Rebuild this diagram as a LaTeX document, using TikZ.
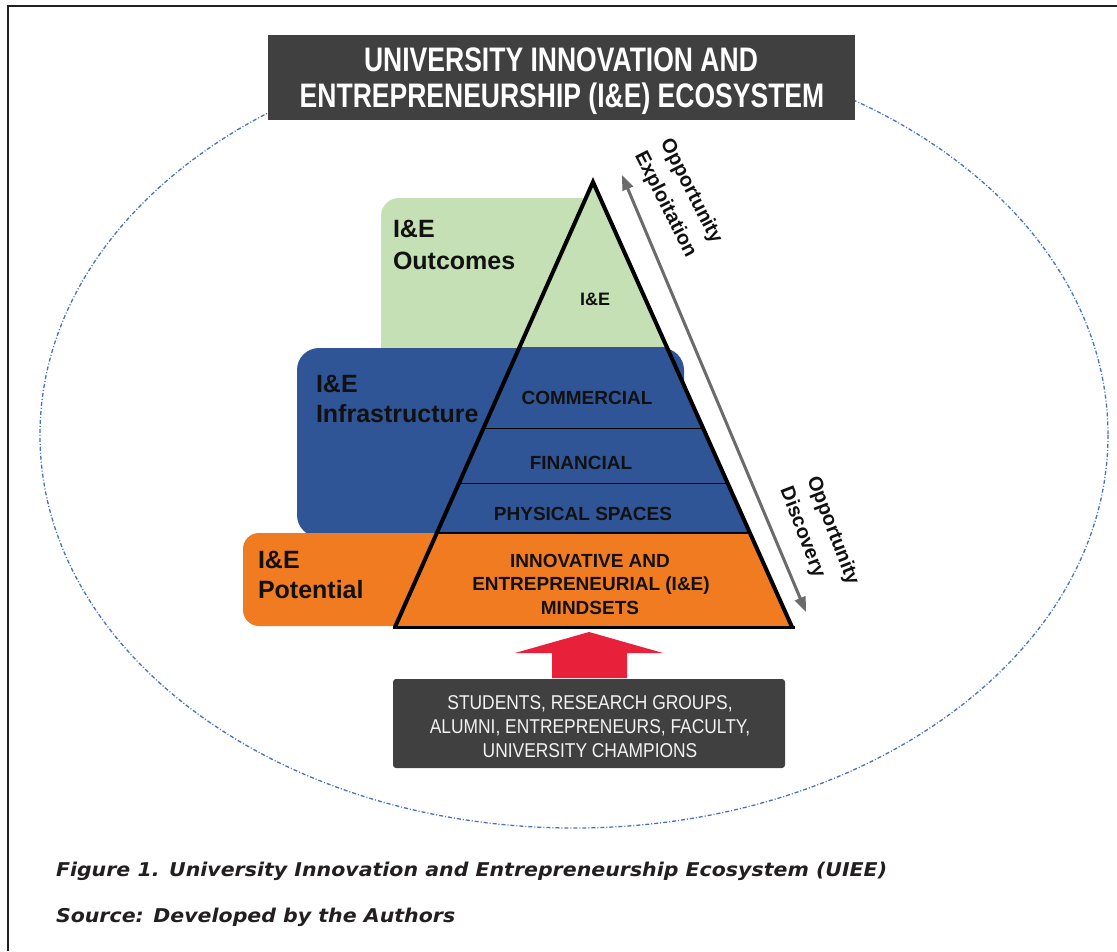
\documentclass[tikz,border=0pt]{standalone}
\usepackage{fontspec}
\setmainfont{Liberation Sans}
\newfontfamily\titlefont[FakeStretch=0.78]{Liberation Sans}
\newfontfamily\boxfont[FakeStretch=0.87]{Liberation Sans}
\newfontfamily\capfont[FakeStretch=1.08]{DejaVu Sans}
\usetikzlibrary{arrows.meta,calc}
\definecolor{tgray}{HTML}{404040}
\definecolor{framec}{HTML}{231F20}
\definecolor{ellc}{HTML}{4472C4}
\definecolor{greenc}{HTML}{C5E0B4}
\definecolor{bluec}{HTML}{2F5597}
\definecolor{orangec}{HTML}{F07B21}
\definecolor{redc}{HTML}{E8203A}
\definecolor{arrowgray}{HTML}{6B6B6B}
\definecolor{inkc}{HTML}{111111}
\begin{document}
\begin{tikzpicture}[x=1pt,y=-1pt,
  txt/.style={inner sep=0pt, outer sep=0pt},
  titletxt/.style={txt, text=white, font=\titlefont\bfseries\fontsize{34}{34}\selectfont},
  labeltxt/.style={txt, text=inkc, anchor=base west, font=\bfseries\fontsize{25}{25}\selectfont},
  pyrtxt/.style={txt, text=inkc, anchor=base, font=\bfseries\fontsize{19}{19}\selectfont},
  peopletxt/.style={txt, text=white!95!black, anchor=base, font=\boxfont\fontsize{20}{20}\selectfont},
  captxt/.style={txt, text=framec, anchor=base west, font=\capfont\bfseries\itshape\fontsize{19}{19}\selectfont},
  opptxt/.style={txt, text=inkc, align=left, font=\bfseries\fontsize{20}{29}\selectfont},
  grayarrow/.style={draw=arrowgray, line width=3pt,
    {Triangle[length=15pt,width=11pt]}-{Triangle[length=15pt,width=11pt]}},
  darkbox/.style={fill=tgray, inner sep=0pt}
]
\useasboundingbox (0,0) rectangle (1117,951);
\fill[white] (0,0) rectangle (1117,951);

% frame
\draw[framec, line width=1.5pt] (8,951) -- (8,6) -- (1117,6);

% ecosystem ellipse
\draw[ellc, line width=1.3pt, dash pattern=on 4pt off 2pt on 1pt off 2pt]
  (574,435) ellipse [x radius=534, y radius=393];

% title
\node[darkbox, minimum width=587pt, minimum height=85pt] (title) at (561.5,77.5) {};
\node[titletxt, anchor=base] (title1) at (561,71) {UNIVERSITY INNOVATION AND};
\node[titletxt, anchor=base] (title2) at (562,107) {ENTREPRENEURSHIP (I\&E) ECOSYSTEM};

% side boxes
\fill[greenc, rounded corners=18pt] (381,198) rectangle (598,372);
\fill[bluec, rounded corners=22pt] (297,348) rectangle (684,537);
\fill[orangec, rounded corners=16pt] (243,533) rectangle (730,626);

% pyramid
\coordinate (apex) at (593,182);
\coordinate (bl) at (395,627);
\coordinate (br) at (792,627);
\coordinate (gl) at ($(apex)!0.3708!(bl)$);
\coordinate (gr) at ($(apex)!0.3708!(br)$);
\coordinate (fl) at ($(apex)!0.5528!(bl)$);
\coordinate (fr) at ($(apex)!0.5528!(br)$);
\coordinate (pl) at ($(apex)!0.6764!(bl)$);
\coordinate (pr) at ($(apex)!0.6764!(br)$);
\coordinate (ol) at ($(apex)!0.7888!(bl)$);
\coordinate (or) at ($(apex)!0.7888!(br)$);
\fill[greenc] (apex) -- (gr) -- (gl) -- cycle;
\fill[bluec] (gl) -- (gr) -- (or) -- (ol) -- cycle;
\fill[orangec] (ol) -- (or) -- (br) -- (bl) -- cycle;
\draw[black, line width=1pt] (fl) -- (fr);
\draw[black, line width=1pt] (pl) -- (pr);
\draw[black, line width=1.8pt] (ol) -- (or);
\draw[black, line width=4pt, line join=miter] (bl) -- (apex) -- (br);
\draw[black, line width=3pt] ($(bl)+(-2,0)$) -- ($(br)+(3,0)$);

% side labels
\node[labeltxt] (outA) at (393,237) {I\&E};
\node[labeltxt] (outB) at (393,269) {Outcomes};
\node[labeltxt] (infA) at (316,392) {I\&E};
\node[labeltxt] (infB) at (316,422) {Infrastructure};
\node[labeltxt] (potA) at (258,568) {I\&E};
\node[labeltxt] (potB) at (258,598) {Potential};

% pyramid labels
\node[pyrtxt, font=\bfseries\fontsize{18}{18}\selectfont] (ie) at (595,305) {I\&E};
\node[pyrtxt] (comm) at (587,404) {COMMERCIAL};
\node[pyrtxt] (fin) at (581,469) {FINANCIAL};
\node[pyrtxt] (phys) at (583,520) {PHYSICAL SPACES};
\node[pyrtxt] (mind1) at (590,567) {INNOVATIVE AND};
\node[pyrtxt] (mind2) at (591,590) {ENTREPRENEURIAL (I\&E)};
\node[pyrtxt] (mind3) at (590,614) {MINDSETS};

% opportunity arrow
\coordinate (oppTop) at (622,175);
\coordinate (oppBot) at (806,612);
\draw[grayarrow] (oppTop) -- (oppBot);
\node[opptxt, rotate=-63] (exploit) at (678,198) {Opportunity\\Exploitation};
\node[opptxt, rotate=-69] (discover) at (819,536) {Opportunity\\Discovery};

% people box and red arrow
\node[darkbox, rounded corners=3pt, minimum width=392pt, minimum height=89pt] (people) at (589,723.5) {};
\fill[redc] (589,632) -- (663,653) -- (627,653) -- (627,678) -- (552,678) -- (552,653) -- (515,653) -- cycle;
\node[peopletxt] (p1) at (590,709) {STUDENTS, RESEARCH GROUPS,};
\node[peopletxt] (p2) at (590,733) {ALUMNI, ENTREPRENEURS, FACULTY,};
\node[peopletxt] (p3) at (590,757) {UNIVERSITY CHAMPIONS};

% caption
\node[captxt] (cap1) at (56,876) {Figure 1. University Innovation and Entrepreneurship Ecosystem (UIEE)};
\node[captxt] (cap2) at (56,922) {Source: Developed by the Authors};
\end{tikzpicture}
\end{document}
